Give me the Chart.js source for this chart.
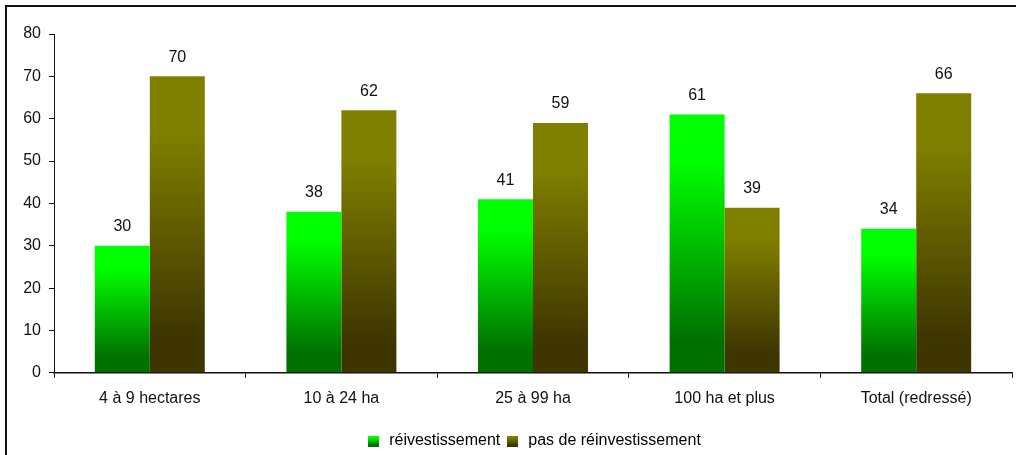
<!DOCTYPE html>
<html lang="fr">
<head>
<meta charset="utf-8">
<title>Réinvestissement selon la taille</title>
<script src="https://cdn.jsdelivr.net/npm/chart.js@4/dist/chart.umd.min.js"></script>
<style>
  html, body { margin: 0; padding: 0; background: #fff; overflow: hidden; }
  #wrap { position: relative; width: 1016px; height: 455px; }
  #frame {
    position: absolute; left: 5px; top: 5px; width: 1100px; height: 600px;
    border-top: 2px solid #111; border-left: 2px solid #111;
  }
  #chart { position: absolute; left: 0; top: 0; }
</style>
</head>
<body>
<div id="wrap">
  <div id="frame"></div>
  <canvas id="chart" width="1016" height="455"></canvas>
</div>
<script>
// Categories and series
const categories = ['4 à 9 hectares', '10 à 24 ha', '25 à 99 ha', '100 ha et plus', 'Total (redressé)'];
const reinvest = [30, 38, 41, 61, 34];
const noReinvest = [70, 62, 59, 39, 66];
const seriesNames = ['réivestissement', 'pas de réinvestissement'];
const yTicks = [0, 10, 20, 30, 40, 50, 60, 70, 80];

const FONT = 'Liberation Sans, Arial, sans-serif';
const FONT_SIZE = 16;

// Top / bottom colours of each series gradient
const shades = [
  { top: '#00ff00', bottom: '#007000' },
  { top: '#808000', bottom: '#3e3500' }
];

function addStops(g, shade) {
  g.addColorStop(0, shade.top);
  g.addColorStop(0.18, shade.top);
  g.addColorStop(0.88, shade.bottom);
  g.addColorStop(1, shade.bottom);
  return g;
}

// Gradient per bar, from its top down to the baseline
function barGradient(context, shade) {
  const chart = context.chart;
  const area = chart.chartArea;
  if (!area || context.type !== 'data') return shade.top;
  const y = chart.scales.y;
  const top = y.getPixelForValue(context.parsed.y);
  const base = y.getPixelForValue(0);
  return addStops(chart.ctx.createLinearGradient(0, top, 0, base), shade);
}

// Small gradient square for the legend
function legendSwatch(shade) {
  const c = document.createElement('canvas');
  c.width = 11; c.height = 11;
  const cx = c.getContext('2d');
  cx.fillStyle = addStops(cx.createLinearGradient(0, 0, 0, 11), shade);
  cx.fillRect(0, 0, 11, 11);
  return c;
}

// Value written above each bar
const valueLabels = {
  id: 'valueLabels',
  afterDatasetsDraw(chart) {
    const ctx = chart.ctx;
    ctx.save();
    ctx.font = FONT_SIZE + 'px ' + FONT;
    ctx.fillStyle = '#111';
    ctx.textAlign = 'center';
    ctx.textBaseline = 'middle';
    chart.data.datasets.forEach((ds, i) => {
      chart.getDatasetMeta(i).data.forEach((bar, j) => {
        ctx.fillText(String(ds.data[j]), bar.x, bar.y - 19);
      });
    });
    ctx.restore();
  }
};

// Nudge the legend right of the canvas centre and a bit lower
const legendShift = {
  id: 'legendShift',
  afterLayout(chart) {
    const lg = chart.legend;
    if (lg) {
      lg.left += 27;
      lg.right += 27;
      lg.top += 4;
      lg.bottom += 4;
    }
  }
};

new Chart(document.getElementById('chart'), {
  type: 'bar',
  data: {
    labels: categories,
    datasets: [
      {
        label: seriesNames[0],
        data: reinvest,
        backgroundColor: ctx => barGradient(ctx, shades[0]),
        swatch: legendSwatch(shades[0])
      },
      {
        label: seriesNames[1],
        data: noReinvest,
        backgroundColor: ctx => barGradient(ctx, shades[1]),
        swatch: legendSwatch(shades[1])
      }
    ]
  },
  options: {
    responsive: false,
    animation: false,
    layout: { padding: { top: 34, right: 4, left: 0, bottom: 0 } },
    datasets: {
      bar: { barPercentage: 1, categoryPercentage: 0.574, borderWidth: 0 }
    },
    plugins: {
      tooltip: { enabled: false },
      legend: {
        position: 'bottom',
        labels: {
          font: { family: FONT, size: FONT_SIZE },
          color: '#111',
          usePointStyle: true,
          padding: 4,
          generateLabels(chart) {
            return chart.data.datasets.map((ds, i) => ({
              text: ds.label,
              pointStyle: ds.swatch,
              fillStyle: shades[i].top,
              strokeStyle: 'transparent',
              lineWidth: 0,
              datasetIndex: i,
              hidden: false
            }));
          }
        }
      }
    },
    scales: {
      x: {
        afterFit(scale) { scale.height += 6; },
        grid: {
          offset: true,
          drawOnChartArea: false,
          drawTicks: true,
          tickLength: 5,
          color: '#111'
        },
        border: { display: true, color: '#111', width: 1.5 },
        ticks: {
          font: { family: FONT, size: FONT_SIZE },
          color: '#111',
          padding: 11,
          maxRotation: 0
        }
      },
      y: {
        min: 0,
        max: 80,
        afterBuildTicks(scale) {
          scale.ticks = yTicks.map(v => ({ value: v }));
        },
        afterFit(scale) { scale.width = 54; },
        grid: {
          drawOnChartArea: false,
          drawTicks: true,
          tickLength: 5,
          color: '#111'
        },
        border: { display: true, color: '#111', width: 1 },
        ticks: {
          font: { family: FONT, size: FONT_SIZE },
          color: '#111',
          padding: 8
        }
      }
    }
  },
  plugins: [valueLabels, legendShift]
});
</script>
</body>
</html>
